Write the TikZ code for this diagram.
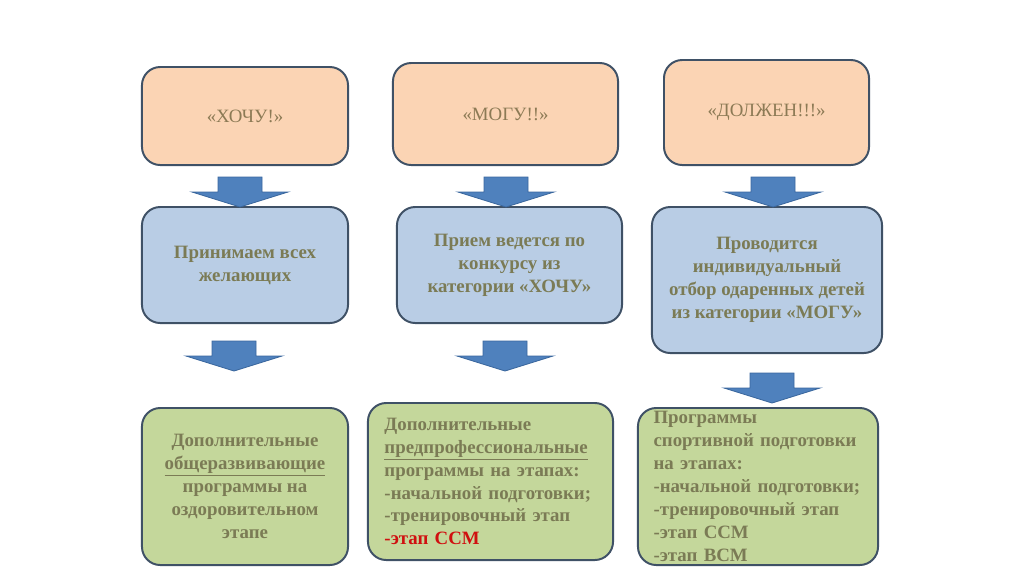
\documentclass[tikz,border=0pt]{standalone}
\usepackage{fontspec}
\setmainfont{Liberation Serif}
\usepackage{tikz}
\usetikzlibrary{positioning}
\definecolor{boxline}{HTML}{3F5166}
\definecolor{peach}{HTML}{FBD4B4}
\definecolor{paleblue}{HTML}{B9CDE5}
\definecolor{palegreen}{HTML}{C4D79B}
\definecolor{olivetxt}{HTML}{7B7B55}
\definecolor{browntxt}{HTML}{8C7A55}
\definecolor{redtxt}{HTML}{D01010}
\definecolor{arrowblue}{HTML}{4F81BD}
\definecolor{arrowline}{HTML}{3A679E}
\newcommand{\boxfont}{\fontsize{13.4}{16.3}\selectfont}
\tikzset{
  x=0.025cm, y=-0.025cm,
  box/.style={draw=boxline,line width=1.4pt,rounded corners=13pt,
    inner sep=0pt,align=center,font=\boxfont},
  wantbox/.style={box,fill=peach,text=browntxt},
  recbox/.style={box,fill=paleblue,text=olivetxt,font=\boxfont\bfseries},
  progbox/.style={box,fill=palegreen,text=olivetxt,font=\boxfont\bfseries},
  arrowfill/.style={fill=arrowblue,draw=arrowline,line width=0.6pt},
  pics/blkarrow/.style={code={
    \draw[arrowfill] (-22,0) -- (22,0) -- (22,15) -- (48,15) -- (0,30)
      -- (-48,15) -- (-22,15) -- cycle;}},
}
\begin{document}
\begin{tikzpicture}
  \useasboundingbox (0,0) rectangle (1024,574);
  % top row
  \node[wantbox,minimum width=5.15cm,minimum height=2.45cm] (hochu) at (245,116) {«ХОЧУ!»};
  \node[wantbox,minimum width=5.625cm,minimum height=2.55cm] (mogu) at (505.5,114) {«МОГУ!!»};
  \node[wantbox,minimum width=5.125cm,minimum height=2.625cm] (dolzhen) at (766.5,112.5) {«ДОЛЖЕН!!!»};
  % middle row
  \node[recbox,minimum width=5.15cm,minimum height=2.9cm] (vseh) at (245,265)
    {Принимаем всех\\желающих};
  \node[recbox,minimum width=5.625cm,minimum height=2.9cm] (konkurs) at (509.5,265)
    {Прием ведется по\\конкурсу из\\категории «ХОЧУ»};
  \node[recbox,minimum width=5.75cm,minimum height=3.65cm] (otbor) at (767,280)
    {Проводится\\индивидуальный\\отбор одаренных детей\\из категории «МОГУ»};
  % bottom row
  \node[progbox,minimum width=5.15cm,minimum height=3.925cm] (obshch) at (245,486.5)
    {Дополнительные\\\underline{общеразвивающие}\\программы на\\оздоровительном\\этапе};
  \node[progbox,align=left,text width=5.3cm,minimum width=6.125cm,minimum height=3.925cm] (predprof) at (490.5,481.5)
    {Дополнительные\\\underline{предпрофессиональные}\\программы на этапах:\\-начальной подготовки;\\-тренировочный этап\\\textcolor{redtxt}{-этап ССМ}};
  \node[progbox,align=left,text width=5.22cm,minimum width=6cm,minimum height=3.925cm] (sport) at (758,486.5)
    {Программы\\спортивной подготовки\\на этапах:\\-начальной подготовки;\\-тренировочный этап\\-этап ССМ\\-этап ВСМ};
  % block arrows
  \pic at (240,177) {blkarrow};
  \pic at (506,177) {blkarrow};
  \pic at (773,177) {blkarrow};
  \pic at (234,341) {blkarrow};
  \pic at (505,341) {blkarrow};
  \pic at (772,373) {blkarrow};
\end{tikzpicture}
\end{document}
